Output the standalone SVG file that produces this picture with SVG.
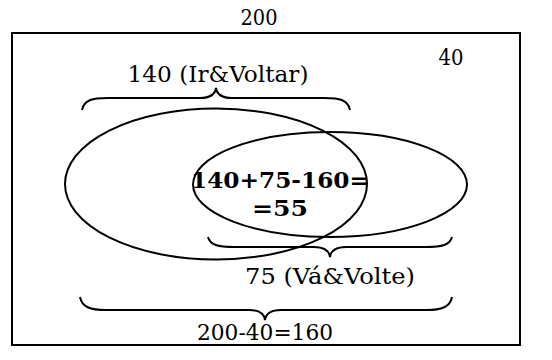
<svg xmlns="http://www.w3.org/2000/svg" width="552" height="360" viewBox="0 0 552 360">
<style>
.t{font-family:'DejaVu Serif','Liberation Serif',serif;font-size:22px;fill:#000;text-anchor:middle}
.b{font-weight:bold}
.s{fill:none;stroke:#000;stroke-width:2}
</style>
<rect width="552" height="360" fill="#fff"/>
<g id="universe">
<rect class="s" x="12" y="33" width="508" height="312"/>
<text class="t" x="259" y="25" textLength="37" lengthAdjust="spacingAndGlyphs">200</text>
<text class="t" x="451" y="65" textLength="25" lengthAdjust="spacingAndGlyphs">40</text>
</g>
<g id="ir">
<ellipse class="s" cx="216" cy="184" rx="151" ry="75.5"/>
</g>
<g id="volte">
<ellipse class="s" cx="330" cy="184.5" rx="137" ry="52.5"/>
</g>
<g id="connectors">
<path class="s" d="M82,110 C84,100 92,98 108,98 L200,98 C210,98 215,95 216,88 C217,95 222,98 232,98 L324,98 C340,98 348,100 350,110"/>
<path class="s" d="M208,237 C210,245 218,247 234,247 L314,247 C324,247 329,250 330,257 C331,250 336,247 346,247 L426,247 C442,247 450,245 452,237"/>
<path class="s" d="M80,297 C82,307 90,310 106,310 L249,310 C259,310 264,313 265,320 C266,313 271,310 281,310 L426,310 C442,310 450,307 452,297"/>
</g>
<g id="labels">
<text class="t" x="218" y="82" textLength="181" lengthAdjust="spacingAndGlyphs">140 (Ir&amp;Voltar)</text>
<text class="t b" x="280" y="188" textLength="178" lengthAdjust="spacingAndGlyphs">140+75-160=</text>
<text class="t b" x="280" y="216" textLength="56" lengthAdjust="spacingAndGlyphs">=55</text>
<text class="t" x="330" y="284" textLength="170" lengthAdjust="spacingAndGlyphs">75 (Vá&amp;Volte)</text>
<text class="t" x="265" y="340" textLength="136" lengthAdjust="spacingAndGlyphs">200-40=160</text>
</g>
</svg>
